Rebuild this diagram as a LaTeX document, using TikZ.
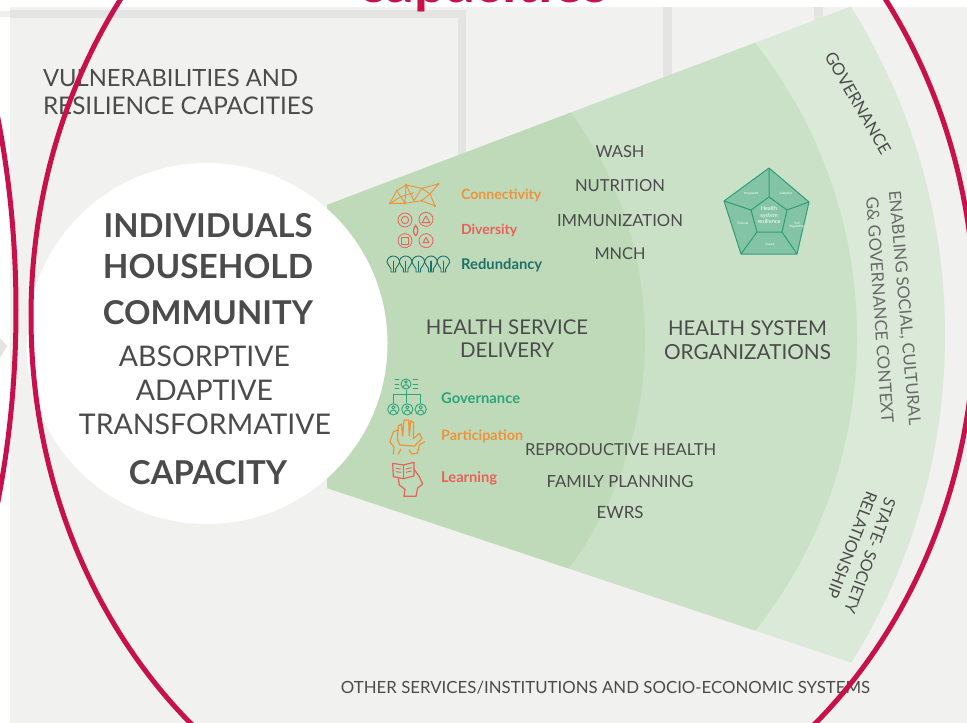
\documentclass[tikz,border=0pt]{standalone}
\usepackage{fontspec}
\usepackage{graphicx}
\setmainfont{Lato}
\definecolor{bggray}{HTML}{F1F1F0}
\definecolor{band}{HTML}{E4E4E2}
\definecolor{wone}{HTML}{BEDAB8}
\definecolor{wtwo}{HTML}{CBE1C7}
\definecolor{wthree}{HTML}{DAE9D8}
\definecolor{crim}{HTML}{C8104D}
\definecolor{txt}{HTML}{4C4B4B}
\definecolor{corange}{HTML}{F0923B}
\definecolor{cred}{HTML}{E8615A}
\definecolor{cteal}{HTML}{1F6F6B}
\definecolor{cgreen}{HTML}{2BA57A}
\definecolor{pfill}{HTML}{84C4A6}
\definecolor{pline}{HTML}{2F9E75}
\newcommand\fw[2]{\resizebox{#1pt}{!}{#2}}
\tikzset{
  lab/.style={inner sep=0pt,outer sep=0pt,text=txt,font=\fontsize{20}{24}\selectfont},
  blab/.style={lab,font=\fontsize{20}{24}\selectfont\bfseries},
  clab/.style={inner sep=0pt,anchor=west,font=\fontsize{14}{16}\selectfont\bfseries},
  redline/.style={draw=crim,line width=5pt},
  ico/.style={line width=0.9pt,line join=round,line cap=round},
  penta/.style={inner sep=0pt,text=white,align=center,font=\fontsize{3.2}{3.6}\selectfont},
}
\begin{document}
\begin{tikzpicture}[x=1pt,y=-1pt]
\useasboundingbox (0,0) rectangle (967,723);
\clip (0,0) rectangle (967,723);
% background
\fill[bggray] (10,6.5) rectangle (967,723);
\fill[band] (10,10) rectangle (466,18);
\fill[band] (458,10) rectangle (466,170);
\fill[band!60!white] (0,10.5) rectangle (10,17);
\fill[band] (663,6.5) rectangle (672,90);
\fill[band] (814,6.5) rectangle (823,40);
\fill[band] (0,338) -- (7,346) -- (0,358) -- cycle;
% wedge
\begin{scope}
\clip (327,205) -- (1000,-50) -- (1000,712) -- (327,488) -- cycle;
\fill[wthree] (326,335) circle (619);
\fill[wtwo] (382,337) circle (475);
\fill[wone] (262,339) circle (383);
\end{scope}
% white circle
\fill[white] (207,343.5) circle (180.5);
% top title remnant
\node[inner sep=0pt,anchor=base,text=crim,font=\fontsize{48}{50}\selectfont\bfseries] (title) at (483,2.5) {\fw{250}{capacities}};
% labels
\node[lab,anchor=west] (vuln) at (43,78) {\fw{255}{VULNERABILITIES AND}};
\node[lab,anchor=west] (resil) at (43,106) {\fw{271}{RESILIENCE CAPACITIES}};
\node[blab] (indiv) at (208,226) {\fw{209}{INDIVIDUALS}};
\node[blab] (house) at (208,266) {\fw{210}{HOUSEHOLD}};
\node[blab] (comm) at (208,313) {\fw{210}{COMMUNITY}};
\node[lab] (abs) at (204.5,356) {\fw{171}{ABSORPTIVE}};
\node[lab] (adap) at (204.5,390) {\fw{137}{ADAPTIVE}};
\node[lab] (trans) at (205,424) {\fw{252}{TRANSFORMATIVE}};
\node[blab] (cap) at (208,473) {\fw{158}{CAPACITY}};
\node[lab] (wash) at (620,151.5) {\fw{49}{WASH}};
\node[lab] (nutr) at (620,185.5) {\fw{90}{NUTRITION}};
\node[lab] (immu) at (620,220.5) {\fw{126}{IMMUNIZATION}};
\node[lab] (mnch) at (620,254) {\fw{51}{MNCH}};
\node[lab] (hs1) at (507,327.5) {\fw{162}{HEALTH SERVICE}};
\node[lab] (hs2) at (507,350.5) {\fw{94}{DELIVERY}};
\node[lab] (hy1) at (747.5,328) {\fw{159}{HEALTH SYSTEM}};
\node[lab] (hy2) at (747.5,352) {\fw{167}{ORGANIZATIONS}};
\node[lab] (repro) at (620.5,449.5) {\fw{191}{REPRODUCTIVE HEALTH}};
\node[lab] (fam) at (620,481) {\fw{147}{FAMILY PLANNING}};
\node[lab] (ewrs) at (620,512) {\fw{47}{EWRS}};
\node[lab] (other) at (605.5,687.5) {\fw{529}{OTHER SERVICES/INSTITUTIONS AND SOCIO-ECONOMIC SYSTEMS}};
\node[lab,rotate=-60] (gov) at (858,103) {\fw{115}{GOVERNANCE}};
\node[lab,rotate=-85,opacity=.8] (ena) at (904,308) {\fw{235}{ENABLING SOCIAL, CULTURAL}};
\node[lab,rotate=-86,opacity=.8] (gg) at (880,310) {\fw{227}{G\& GOVERNANCE CONTEXT}};
\node[lab,rotate=-110] (state) at (870,556) {\fw{122}{STATE- SOCIETY}};
\node[lab,rotate=-111] (rel) at (852,545) {\fw{113}{RELATIONSHIP}};
% coloured labels
\node[clab,text=corange] (conn) at (461,195) {\fw{80}{Connectivity}};
\node[clab,text=cred] (dive) at (461,230) {\fw{56}{Diversity}};
\node[clab,text=cteal] (redu) at (461,265) {\fw{81}{Redundancy}};
\node[clab,text=cgreen] (gove) at (441,398) {\fw{79}{Governance}};
\node[clab,text=corange] (part) at (441,436) {\fw{82}{Participation}};
\node[clab,text=cred] (lear) at (441,478) {\fw{56}{Learning}};
% icons top
\begin{scope}[shift={(380,170)},scale=1/3,ico]
\draw[corange] (30,100) -- (50,62) -- (78,45) -- (125,55) -- (175,42) -- (150,72) -- (165,108) -- (125,92) -- (75,100) -- cycle;
\draw[corange] (50,62) -- (75,100) -- (78,45) -- (102,92) -- (125,55) -- (150,72) -- (125,92);
\draw[corange] (35,98) -- (62,80) -- (102,68);
\foreach \p in {(30,100),(78,45),(175,42),(165,108),(125,92),(75,100)} \fill[corange] \p circle (4);
\begin{scope}[cred]
\foreach \c in {(75,150),(138,148),(75,212),(138,212)} \draw[densely dotted,line width=1pt] \c circle (21);
\draw (75,150) circle (11);
\draw (138,138) -- (150,158) -- (126,158) -- cycle;
\draw (65,202) rectangle (85,222);
\draw (138,202) -- (147,218) -- (129,218) -- cycle;
\draw[line width=1.2pt] (107,165) .. controls (97,178) and (100,192) .. (107,197) .. controls (114,192) and (117,178) .. (107,165) -- cycle;
\end{scope}
\begin{scope}[cteal]
\foreach \x in {40,77,115,153,190} {
 \draw (\x-7,296) .. controls (\x-8,288) and (\x-19,286) .. (\x-19,277) arc[start angle=180,end angle=360,radius=19] .. controls (\x+19,286) and (\x+8,288) .. (\x+7,296) -- (\x+7,306) -- (\x-7,306) -- cycle;
 \draw[line width=1.3pt] (\x,274) -- (\x,304);
}
\end{scope}
\end{scope}
% pentagon
\coordinate (pa) at (769,168); \coordinate (pb) at (809,202); \coordinate (pc) at (797,254); \coordinate (pd) at (741,254); \coordinate (pe) at (724,201);
\coordinate (qa) at (769,197); \coordinate (qb) at (787,210); \coordinate (qc) at (782,232); \coordinate (qd) at (757,232); \coordinate (qe) at (751,210);
\filldraw[fill=pfill,draw=pline,line width=1pt,line join=round] (pa) -- (pb) -- (pc) -- (pd) -- (pe) -- cycle;
\draw[pline,line width=1pt,line join=round] (qa) -- (qb) -- (qc) -- (qd) -- (qe) -- cycle;
\draw[pline,line width=1pt] (pa) -- (qa) (pb) -- (qb) (pc) -- (qc) (pd) -- (qd) (pe) -- (qe);
\node[penta,font=\fontsize{5.6}{6.4}\selectfont] (pcen) at (769,215) {Health\\system\\resilience};
\node[penta] (p1) at (751,194) {Integrated};
\node[penta] (p2) at (786,194) {Adaptive};
\node[penta] (p3) at (797,225) {Self\\Regulating};
\node[penta] (p4) at (770,244) {Aware};
\node[penta] (p5) at (743,223) {Diverse};
% icons bottom
\begin{scope}[shift={(380,370)},scale=1/3,ico]
\begin{scope}[cgreen]
\draw (78,42) circle (15);
\draw (70,52) arc[start angle=180,end angle=360,radius=8];
\draw (78,36) circle (4);
\foreach \y in {28,42,56} {\draw (45,\y) -- (57,\y); \draw (99,\y) -- (113,\y);}
\draw (78,60) -- (78,98) (40,98) -- (40,72) -- (122,72) -- (122,98);
\foreach \x in {40,82,122} {\draw (\x,118) circle (17); \draw (\x,112) circle (5); \draw (\x-9,129) arc[start angle=180,end angle=360,radius=9];}
\end{scope}
\begin{scope}[corange]
\draw[line width=1.2pt] (52,208) -- (55,168) -- (64,162) -- (68,198) -- (72,150) -- (86,150) -- (88,198) -- (92,152) -- (101,158) -- (100,206) -- (118,190) -- (126,205) -- (104,228) -- (60,225) -- cycle;
\draw[line width=1.2pt] (55,180) -- (40,185) -- (30,215) -- (42,232) -- (40,252);
\draw[line width=1.2pt] (62,238) -- (55,252) (88,240) -- (95,252) -- (112,250) -- (118,225) -- (134,215);
\end{scope}
\begin{scope}[cred]
\draw[line width=1.2pt] (38,280) -- (70,285) -- (102,277) -- (102,318) -- (70,326) -- (40,320) -- cycle;
\draw (70,285) -- (70,326);
\draw (48,295) -- (62,297) (48,305) -- (62,307) (78,297) -- (94,293) (78,307) -- (94,303);
\draw[line width=1.2pt] (55,326) -- (58,345) -- (75,358) -- (72,379) -- (108,379) -- (113,354) -- (128,342) -- (118,320) -- (102,298);
\end{scope}
\end{scope}
% red ellipses
\draw[redline] (503,317) ellipse [x radius=472,y radius=542];
\draw[redline] (-456,310) ellipse [x radius=472,y radius=697];
\end{tikzpicture}
\end{document}
